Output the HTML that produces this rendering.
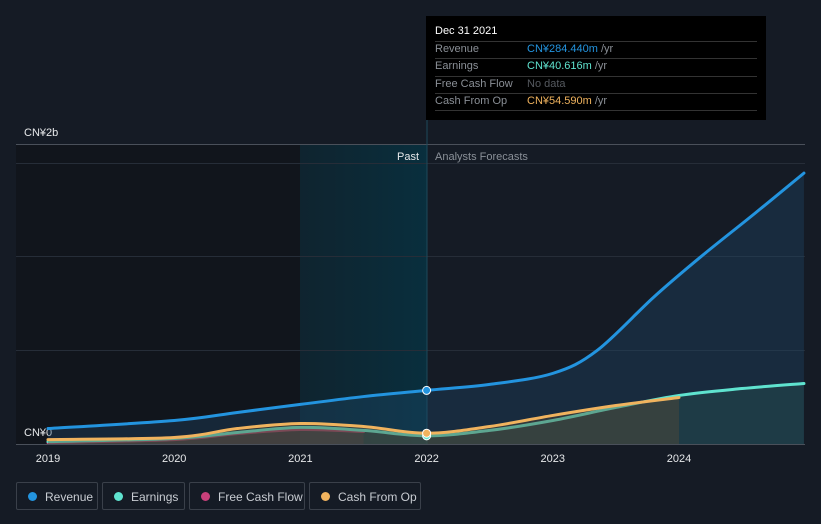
<!DOCTYPE html>
<html><head><meta charset="utf-8">
<style>
body{margin:0;background:#151b25;width:821px;height:524px;overflow:hidden;font-family:"Liberation Sans","Noto Sans CJK SC",sans-serif;}
svg{position:absolute;left:0;top:0}
.tt{position:absolute;left:426px;top:16px;width:340px;height:104px;background:#000;}
.tt div{position:absolute;font-size:11px;}
.leg{position:absolute;top:482px;height:28px;border:1px solid #3a404a;border-radius:2px;color:#c8ccd2;font-size:12px;line-height:28px;box-sizing:border-box;padding-left:28px}
.leg i{position:absolute;left:11px;top:9px;width:9px;height:9px;border-radius:50%}
</style></head><body>
<svg id="chart" width="821" height="524">
<defs>
<linearGradient id="pastg" x1="0" x2="1"><stop offset="0" stop-color="#0b2a36" stop-opacity="0.6"/><stop offset="1" stop-color="#08303f" stop-opacity="0.95"/></linearGradient>
</defs>
<rect x="16" y="145" width="284" height="299" fill="#11151c"/>
<rect x="300" y="145" width="127" height="299" fill="url(#pastg)"/>
<line x1="16" x2="805" y1="144.5" y2="144.5" stroke="#4a505a"/>
<line x1="16" x2="805" y1="163.5" y2="163.5" stroke="#262d38"/>
<line x1="16" x2="805" y1="256.5" y2="256.5" stroke="#262d38"/>
<line x1="16" x2="805" y1="350.5" y2="350.5" stroke="#262d38"/>
<line x1="427" x2="427" y1="16" y2="444" stroke="#1d4a5a"/>
<text x="24" y="136" fill="#e6e8ea" font-size="11">CN¥2b</text>
<text x="24" y="436" fill="#e6e8ea" font-size="11">CN¥0</text>
<text x="419" y="160" fill="#e6e8ea" font-size="11" text-anchor="end">Past</text>
<text x="435" y="160" fill="#8a9098" font-size="11">Analysts Forecasts</text>
<g id="series"></g>
<line x1="16" x2="805" y1="444.5" y2="444.5" stroke="#4a505a"/>
<g id="xt"></g>
</svg>
<div class="tt">
<div style="left:9px;top:9px;color:#fff;font-size:11px">Dec 31 2021</div>
<div style="left:9px;right:9px;top:25px;border-top:1px solid #333;height:0"></div>
<div style="left:9px;right:9px;top:42px;border-top:1px solid #333;height:0"></div>
<div style="left:9px;right:9px;top:60px;border-top:1px solid #333;height:0"></div>
<div style="left:9px;right:9px;top:77px;border-top:1px solid #333;height:0"></div>
<div style="left:9px;right:9px;top:94px;border-top:1px solid #333;height:0"></div>
<div style="left:9px;top:27px;color:#8a8f96">Revenue</div><div style="left:101px;top:27px;color:#2394df">CN¥284.440m <span style="color:#8a8f96">/yr</span></div>
<div style="left:9px;top:44px;color:#8a8f96">Earnings</div><div style="left:101px;top:44px;color:#5fe3cf">CN¥40.616m <span style="color:#8a8f96">/yr</span></div>
<div style="left:9px;top:62px;color:#8a8f96">Free Cash Flow</div><div style="left:101px;top:62px;color:#55595f">No data</div>
<div style="left:9px;top:79px;color:#8a8f96">Cash From Op</div><div style="left:101px;top:79px;color:#f0b35e">CN¥54.590m <span style="color:#8a8f96">/yr</span></div>
</div>
<div class="leg" style="left:16px;width:82px"><i style="background:#2394df"></i>Revenue</div>
<div class="leg" style="left:102px;width:83px"><i style="background:#5fe3cf"></i>Earnings</div>
<div class="leg" style="left:189px;width:116px"><i style="background:#c8407a"></i>Free Cash Flow</div>
<div class="leg" style="left:309px;width:112px"><i style="background:#f0b35e"></i>Cash From Op</div>
<script>
const years=[2019,2020,2021,2022,2023,2024];
const revT=[2019,2020,2020.5,2021,2021.5,2022,2022.5,2023,2023.35,2023.8,2024.17,2024.6,2024.99];
const revV=[80,123,166,209,251,284,316,375,497,783,997,1230,1446];
const earnT=[2019,2020,2020.5,2021,2021.5,2022,2022.5,2023,2023.5,2024,2024.5,2024.99];
const earnV=[10,27,59,86,70,41,70,123,193,257,294,321];
const cfoT=[2019,2020,2020.5,2021,2021.5,2022,2022.5,2023,2023.5,2024];
const cfoV=[21,32,80,107,91,55,91,150,203,246];
const fcfT=[2019,2020,2020.5,2021,2021.5];
const fcfV=[5,21,53,75,64];
const NS='http://www.w3.org/2000/svg';
const X=t=>48+(t-2019)*126.2;
const Y=v=>443.5-v*0.187;
function path(T,V){const p=T.map((t,i)=>[X(t),Y(V[i])]);let d='M'+p[0][0]+','+p[0][1];
for(let i=0;i<p.length-1;i++){const a=p[i-1]||p[i],b=p[i],c=p[i+1],e=p[i+2]||c;
d+=' C'+(b[0]+(c[0]-a[0])/6)+','+(b[1]+(c[1]-a[1])/6)+' '+(c[0]-(e[0]-b[0])/6)+','+(c[1]-(e[1]-b[1])/6)+' '+c[0]+','+c[1];}return d;}
const g=document.getElementById('series');
function add(tag,attrs,name){const el=document.createElementNS(NS,tag);for(const k in attrs)el.setAttribute(k,attrs[k]);


g.appendChild(el);return el;}
function series(T,V,col,fill,fo,name){const d=path(T,V);
add('path',{d:d+' L'+X(T[T.length-1])+',444 L'+X(T[0])+',444 Z',fill:fill,'fill-opacity':fo},name+'-area');
add('path',{d:d,fill:'none',stroke:col,'stroke-width':3,'stroke-linecap':'round'},name+'-line');}
series(revT,revV,'#2394df','#1f4a6e',0.35,'revenue');
series(fcfT,fcfV,'#c8407a','#6a3048',0.4,'free-cash-flow');
series(earnT,earnV,'#5fe3cf','#2c5a55',0.35,'earnings');
series(cfoT,cfoV,'#f0b35e','#5a4a35',0.4,'cash-from-op');
add('circle',{cx:X(2022),cy:Y(revV[5]),r:4,fill:'#2394df',stroke:'#fff','stroke-width':1},'revenue-marker');
add('circle',{cx:X(2022),cy:Y(earnV[5]),r:4,fill:'#5fe3cf',stroke:'#fff','stroke-width':1},'earnings-marker');
add('circle',{cx:X(2022),cy:Y(cfoV[5]),r:4,fill:'#f0b35e',stroke:'#fff','stroke-width':1},'cash-from-op-marker');
const xt=document.getElementById('xt');
years.forEach(y=>{const t=document.createElementNS(NS,'text');t.setAttribute('x',X(y));t.setAttribute('y',462);
t.setAttribute('text-anchor','middle');t.setAttribute('fill','#e6e8ea');t.setAttribute('font-size','11');t.textContent=y;


xt.appendChild(t);});
</script>
</body></html>
